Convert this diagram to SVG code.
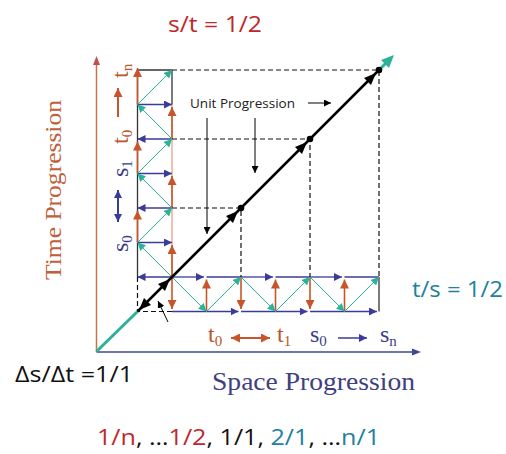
<svg xmlns="http://www.w3.org/2000/svg" width="506" height="454" viewBox="0 0 506 454">
<defs>
<marker id="mt" viewBox="0 0 10 10" refX="10" refY="5" markerWidth="8" markerHeight="8" markerUnits="userSpaceOnUse" orient="auto"><path d="M0,0L10,5L0,10z" fill="#2bb39a"/></marker>
<marker id="mb" viewBox="0 0 10 10" refX="10" refY="5" markerWidth="8" markerHeight="8" markerUnits="userSpaceOnUse" orient="auto"><path d="M0,0L10,5L0,10z" fill="#3b3b98"/></marker>
<marker id="mo" viewBox="0 0 10 10" refX="10" refY="5" markerWidth="9" markerHeight="9" markerUnits="userSpaceOnUse" orient="auto"><path d="M0,0L10,5L0,10z" fill="#c8552a"/></marker>
<marker id="mk" viewBox="0 0 10 10" refX="10" refY="5" markerWidth="7" markerHeight="7" markerUnits="userSpaceOnUse" orient="auto"><path d="M0,0L10,5L0,10z" fill="#000"/></marker>
</defs>
<style>
.grid{stroke:#333;stroke-width:1.3;fill:none}
.pale{stroke:#e3a485;stroke-width:1.3;fill:none}
.dash{stroke:#111;stroke-width:1.2;stroke-dasharray:5 3;fill:none}
.teal{stroke:#2bb39a;stroke-width:1;fill:none;marker-end:url(#mt)}
.blue{stroke:#3b3b98;stroke-width:1.3;fill:none}
.ba{marker-end:url(#mb)}
.or{stroke:#c8552a;stroke-width:1.6;fill:none;marker-end:url(#mo)}
.thin{stroke:#000;stroke-width:1;fill:none;marker-end:url(#mk)}
.serif{font-family:"Liberation Serif","Times New Roman",serif}
.sans{font-family:"Open Sans","Liberation Sans",Arial,sans-serif}
.tcol{fill:#b9562c}
.scol{fill:#3b3b8a}
</style>

<g id="axes">
<line x1="96.5" y1="352" x2="96.5" y2="62" stroke="#c5744a" stroke-width="1.5"/>
<polygon points="96.5,56 93,65 100,65" fill="#c0504d"/>
<line x1="96.5" y1="352" x2="414" y2="352" stroke="#3f4a8a" stroke-width="1.5"/>
<polygon points="421,352 412,348.5 412,355.5" fill="#3f4a8a"/>
</g>

<g id="lattice-left">
<line class="grid" x1="137.5" y1="70" x2="172" y2="70"/>
<line class="grid" x1="137.5" y1="70" x2="137.5" y2="277"/>
<line class="grid" x1="172" y1="70" x2="172" y2="104.5"/>
<line class="pale" x1="172" y1="104.5" x2="172" y2="277"/>
<line class="blue ba" x1="137.5" y1="104.5" x2="172" y2="104.5"/>
<line class="blue ba" x1="172" y1="139" x2="137.5" y2="139"/>
<line class="blue ba" x1="137.5" y1="173.5" x2="172" y2="173.5"/>
<line class="blue ba" x1="172" y1="208" x2="137.5" y2="208"/>
<line class="blue ba" x1="137.5" y1="242.5" x2="172" y2="242.5"/>
<line class="blue ba" x1="172" y1="277" x2="137.5" y2="277"/>
<line class="or" x1="172" y1="277" x2="172" y2="245"/>
<line class="or" x1="137.5" y1="242.5" x2="137.5" y2="210.5"/>
<line class="or" x1="172" y1="208" x2="172" y2="176"/>
<line class="or" x1="137.5" y1="173.5" x2="137.5" y2="141.5"/>
<line class="or" x1="172" y1="139" x2="172" y2="107"/>
<line class="or" x1="137.5" y1="104.5" x2="137.5" y2="68"/>
<line class="teal" x1="172" y1="277" x2="137.5" y2="242.5"/>
<line class="teal" x1="137.5" y1="242.5" x2="172" y2="208"/>
<line class="teal" x1="172" y1="208" x2="137.5" y2="173.5"/>
<line class="teal" x1="137.5" y1="173.5" x2="172" y2="139"/>
<line class="teal" x1="172" y1="139" x2="137.5" y2="104.5"/>
<line class="teal" x1="137.5" y1="104.5" x2="172" y2="70"/>
</g>

<g id="lattice-bottom">
<line class="blue ba" x1="172" y1="277" x2="204" y2="277"/>
<line class="blue" x1="206.5" y1="277" x2="241" y2="277"/>
<line class="blue ba" x1="241" y1="277" x2="273" y2="277"/>
<line class="blue" x1="275.5" y1="277" x2="310" y2="277"/>
<line class="blue ba" x1="310" y1="277" x2="342" y2="277"/>
<line class="blue" x1="344.5" y1="277" x2="379" y2="277"/>
<line class="blue" x1="172" y1="311.5" x2="206.5" y2="311.5"/>
<line class="blue ba" x1="206.5" y1="311.5" x2="238.5" y2="311.5"/>
<line class="blue" x1="241" y1="311.5" x2="275.5" y2="311.5"/>
<line class="blue ba" x1="275.5" y1="311.5" x2="307.5" y2="311.5"/>
<line class="blue" x1="310" y1="311.5" x2="344.5" y2="311.5"/>
<line class="blue ba" x1="344.5" y1="311.5" x2="377" y2="311.5"/>
<line class="grid" x1="379" y1="277" x2="379" y2="311.5"/>
<line class="or" x1="172" y1="277" x2="172" y2="309"/>
<line class="or" x1="206.5" y1="311.5" x2="206.5" y2="279.5"/>
<line class="or" x1="241" y1="277" x2="241" y2="309"/>
<line class="or" x1="275.5" y1="311.5" x2="275.5" y2="279.5"/>
<line class="or" x1="310" y1="277" x2="310" y2="309"/>
<line class="or" x1="344.5" y1="311.5" x2="344.5" y2="279.5"/>
<line class="teal" x1="172" y1="277" x2="206.5" y2="311.5"/>
<line class="teal" x1="206.5" y1="311.5" x2="241" y2="277"/>
<line class="teal" x1="241" y1="277" x2="275.5" y2="311.5"/>
<line class="teal" x1="275.5" y1="311.5" x2="310" y2="277"/>
<line class="teal" x1="310" y1="277" x2="344.5" y2="311.5"/>
<line class="teal" x1="344.5" y1="311.5" x2="379" y2="277"/>
</g>

<g id="connectors">
<path class="dash" d="M172,70H379V277M172,139H310V277M172,208H241V277M137.5,277V311.5H172"/>
<line x1="96.5" y1="351.5" x2="137.5" y2="311.5" stroke="#2bb39a" stroke-width="3"/>
<line x1="379" y1="70" x2="388" y2="61" stroke="#2bb39a" stroke-width="3"/>
<polygon points="394,55 389,68 381,60" fill="#2bb39a"/>
<line x1="137.5" y1="311.5" x2="379" y2="70" stroke="#000" stroke-width="2.5"/>
<polygon points="139,310 151,305 144,298" fill="#000"/>
<polygon points="170,279 165,291 158,284" fill="#000"/>
<polygon points="238,211 233,223 226,216" fill="#000"/>
<polygon points="307,142 302,154 295,147" fill="#000"/>
<polygon points="376,73 371,85 364,78" fill="#000"/>
<circle cx="241" cy="208" r="3.3" fill="#000"/>
<circle cx="310" cy="139" r="3.3" fill="#000"/>
<circle cx="379" cy="70" r="3.3" fill="#000"/>
<line class="thin" x1="168" y1="322" x2="158" y2="301"/>
<line class="thin" x1="308" y1="103" x2="331" y2="103"/>
<line class="thin" x1="207" y1="118" x2="207" y2="234"/>
<line class="thin" x1="255" y1="118" x2="255" y2="173"/>
<line x1="118" y1="117" x2="118" y2="88" stroke="#c8552a" stroke-width="2" marker-end="url(#mo)"/>
<line x1="118" y1="196" x2="118" y2="222" stroke="#3b3b98" stroke-width="2" marker-end="url(#mb)"/>
<line x1="118" y1="216" x2="118" y2="190" stroke="#3b3b98" stroke-width="2" marker-end="url(#mb)"/>
<line x1="238" y1="338" x2="270" y2="338" stroke="#c8552a" stroke-width="2" marker-end="url(#mo)"/>
<line x1="264" y1="338" x2="231" y2="338" stroke="#c8552a" stroke-width="2" marker-end="url(#mo)"/>
<line x1="338" y1="338" x2="367" y2="338" stroke="#3b3b98" stroke-width="1.5" marker-end="url(#mb)"/>
</g>

<g id="labels">
<text class="sans" x="168" y="32" font-size="22" fill="#c0272d" textLength="94" lengthAdjust="spacingAndGlyphs">s/t = 1/2</text>
<text class="sans" x="412" y="297" font-size="22" fill="#2280a0" textLength="91" lengthAdjust="spacingAndGlyphs">t/s = 1/2</text>
<text class="sans" x="15" y="382" font-size="22" fill="#111" textLength="118" lengthAdjust="spacingAndGlyphs">Δs/Δt =1/1</text>
<text class="sans" x="97" y="445" font-size="22" textLength="283" lengthAdjust="spacingAndGlyphs"><tspan fill="#c0272d">1/n</tspan><tspan fill="#111">, …</tspan><tspan fill="#c0272d">1/2</tspan><tspan fill="#111">, 1/1, </tspan><tspan fill="#2280a0">2/1</tspan><tspan fill="#111">, …</tspan><tspan fill="#2280a0">n/1</tspan></text>
<text class="sans" x="190" y="108" font-size="13.5" fill="#222" textLength="105" lengthAdjust="spacingAndGlyphs">Unit Progression</text>
<text class="serif" x="212" y="390" font-size="25" fill="#3f3f80" textLength="203" lengthAdjust="spacingAndGlyphs">Space Progression</text>
<text class="serif" transform="translate(61,190) rotate(-90)" text-anchor="middle" font-size="24" fill="#c0603a" textLength="180" lengthAdjust="spacingAndGlyphs">Time Progression</text>
<text class="serif tcol" transform="translate(128,78) rotate(-90)" font-size="24">t<tspan font-size="15" dy="4">n</tspan></text>
<text class="serif tcol" transform="translate(128,144) rotate(-90)" font-size="24">t<tspan font-size="15" dy="4">0</tspan></text>
<text class="serif scol" transform="translate(128,177) rotate(-90)" font-size="24">s<tspan font-size="15" dy="4">1</tspan></text>
<text class="serif scol" transform="translate(128,252) rotate(-90)" font-size="24">s<tspan font-size="15" dy="4">0</tspan></text>
<text class="serif tcol" x="208" y="342" font-size="24">t<tspan font-size="15" dy="4">0</tspan></text>
<text class="serif tcol" x="277" y="342" font-size="24">t<tspan font-size="15" dy="4">1</tspan></text>
<text class="serif scol" x="310" y="342" font-size="24">s<tspan font-size="15" dy="4">0</tspan></text>
<text class="serif scol" x="380" y="342" font-size="24">s<tspan font-size="15" dy="4">n</tspan></text>
</g>
</svg>
